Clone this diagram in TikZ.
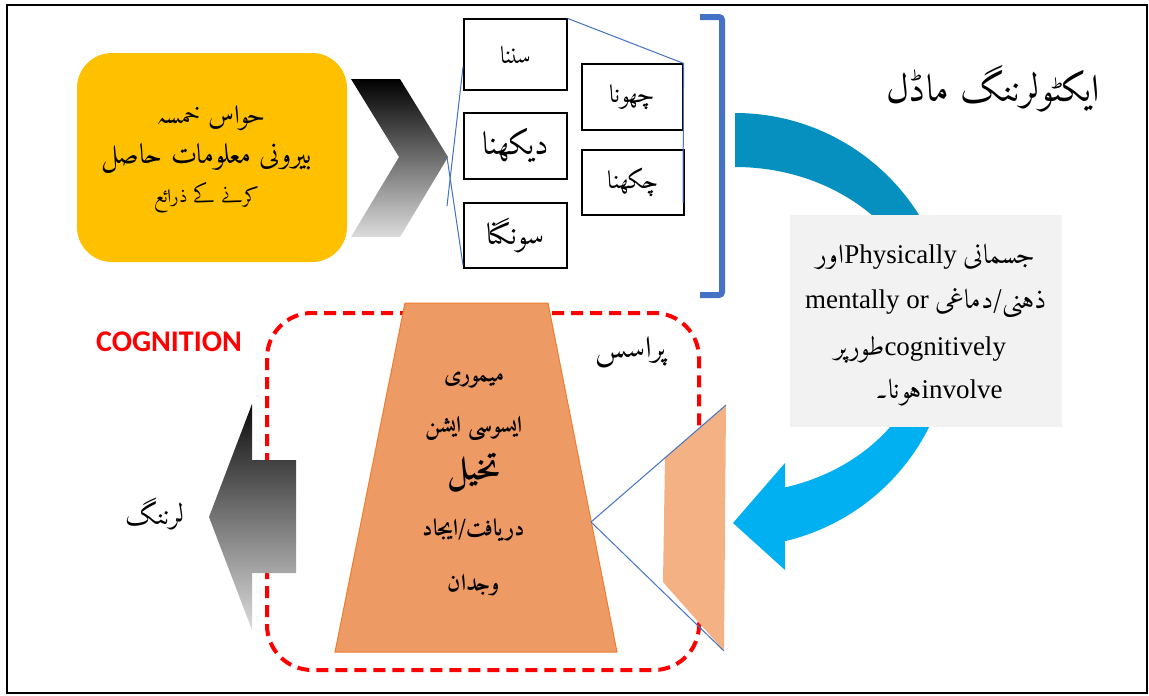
\documentclass[tikz,border=0pt]{standalone}
\usepackage{fontspec}
\setmainfont{Liberation Serif}
\IfFontExistsTF{Amiri-Regular.ttf}{%
  \newfontfamily\ur[Script=Arabic]{Amiri-Regular.ttf}%
  \newfontfamily\urb[Script=Arabic]{Amiri-Bold.ttf}%
}{%
  \newfontfamily\ur[Script=Arabic]{DejaVu Sans}%
  \newfontfamily\urb[Script=Arabic,FakeBold=2]{DejaVu Sans}%
}
\newfontfamily\calfont{Carlito}
\TeXXeTstate=1
\definecolor{gold}{HTML}{FFC000}
\definecolor{lineblue}{HTML}{4472C4}
\definecolor{arcdark}{HTML}{0590C0}
\definecolor{arclight}{HTML}{00B0F0}
\definecolor{boxgray}{HTML}{F2F2F2}
\definecolor{orbig}{HTML}{EE9A64}
\definecolor{orline}{HTML}{ED7D31}
\definecolor{orsmall}{HTML}{F4B183}
\definecolor{shadelight}{HTML}{DCDCDC}
\newcommand{\usz}[1]{\ur\fontsize{#1}{#1}\selectfont}
\newcommand{\ubsz}[1]{\urb\fontsize{#1}{#1}\selectfont}
\begin{document}
\begin{tikzpicture}[x=1pt,y=-1pt,
  sensebox/.style={draw=black,line width=1.2pt,fill=white,inner sep=0pt},
  thinblue/.style={draw=lineblue,line width=1pt},
  txt/.style={inner sep=0pt}]
\useasboundingbox (0,0) rectangle (1149,696);
\fill[white] (0,0) rectangle (1149,696);
\draw[line width=2pt] (7,5) rectangle (1147,693);

% yellow rounded box
\node[fill=gold,rounded corners=35pt,minimum width=270pt,minimum height=209pt,inner sep=0pt] (yb) at (212,157.5) {};
\node[txt] (y1) at (211,118) {\usz{26}\beginR حواس خمسہ\endR};
\node[txt] (y2) at (207,158) {\usz{28}\beginR بیرونی معلومات حاصل\endR};
\node[txt] (y3) at (207,198) {\usz{19}\beginR کرنے کے ذرائع\endR};

% chevron
\shade[top color=black,bottom color=shadelight] (351,79) -- (400,79) -- (448,157) -- (400,237) -- (351,237) -- (399,157) -- cycle;

% sense boxes
\node[sensebox,minimum width=103pt,minimum height=71pt] (sn) at (515.5,54.5) {\usz{24}\beginR سننا\endR};
\node[sensebox,minimum width=103pt,minimum height=66pt] (dk) at (515.5,146) {\usz{32}\beginR دیکھنا\endR};
\node[sensebox,minimum width=103pt,minimum height=65pt] (sg) at (515.5,235.5) {\usz{30}\beginR سونگنا\endR};
\node[sensebox,minimum width=101pt,minimum height=66pt] (cho) at (632.5,97) {\usz{25}\beginR چھونا\endR};
\node[sensebox,minimum width=102pt,minimum height=65pt] (chk) at (633,182.5) {\usz{25}\beginR چکھنا\endR};

% thin blue lines
\coordinate (la1) at (463,67);
\coordinate (la2) at (447,206);
\coordinate (lb1) at (447,157);
\coordinate (lb2) at (463,265);
\coordinate (lc) at (683,203);
\draw[thinblue] (la1) -- (la2);
\draw[thinblue] (lb1) -- (lb2);
\draw[thinblue] (sn.north east) -- (cho.north east) -- (lc);

% bracket
\coordinate (br1) at (700,17);
\coordinate (br2) at (722,17);
\coordinate (br3) at (722,295);
\coordinate (br4) at (700,295);
\draw[lineblue,line width=6pt,rounded corners=3pt] (br1) -- (br2) -- (br3) -- (br4);

% title
\node[txt] (title) at (993,89) {\usz{38}\beginR ایکٹولرننگ ماڈل\endR};

% curved arrow
\fill[arcdark] (735,113) arc[start angle=-90,end angle=0,radius=217] -- (928,330)
   arc[start angle=0,end angle=-90,x radius=193,y radius=163] -- cycle;
\fill[arclight] (952,330) arc[start angle=0,end angle=76.7,radius=217] -- (785,570) -- (733,523) -- (785,463) -- (785,487.4)
   arc[start angle=75,end angle=0,x radius=193,y radius=163] -- cycle;

% gray box
\node[fill=boxgray,minimum width=272pt,minimum height=212pt,inner sep=0pt] (gb) at (926,321) {};
\node[txt] (g1) at (926,257) {\fontsize{27}{30}\selectfont\beginR{\ur جسمانی} \beginL Physically\endL{\ur اور}\endR};
\node[txt] (g2) at (926,303) {\fontsize{27}{30}\selectfont\beginR{\ur ذہنی/دماغی} \beginL mentally or\endL\endR};
\node[txt] (g3) at (920,350) {\fontsize{27}{30}\selectfont\beginR\beginL cognitively\endL{\ur طورپر}\endR};
\node[txt] (g4) at (939,393) {\fontsize{27}{30}\selectfont\beginR\beginL involve\endL{\ur ہونا۔}\endR};

% red dashed box
\draw[red,line width=4pt,dash pattern=on 12pt off 7pt,rounded corners=45pt] (267,313) rectangle (699,670);
\node[txt,text=red] (cog) at (169,342) {\calfont\bfseries\fontsize{30}{32}\selectfont COGNITION};
\node[txt] (pr) at (631,352) {\usz{30}\beginR پراسس\endR};

% big trapezoid
\coordinate (t1) at (405,303);
\coordinate (t2) at (548,303);
\coordinate (t3) at (617,652);
\coordinate (t4) at (335,652);
\filldraw[fill=orbig,draw=orline,line width=1pt] (t1) -- (t2) -- (t3) -- (t4) -- cycle;
\node[txt] (m1) at (474,380) {\ubsz{23}\beginR میموری\endR};
\node[txt] (m2) at (474,428) {\ubsz{23}\beginR ایسوسی ایشن\endR};
\node[txt] (m3) at (474,473) {\ubsz{34}\beginR تخیل\endR};
\node[txt] (m4) at (474,530) {\ubsz{23}\beginR دریافت/ایجاد\endR};
\node[txt] (m5) at (474,585) {\ubsz{23}\beginR وجدان\endR};

% small trapezoid and lines
\coordinate (ap) at (591,522);
\coordinate (s1) at (665,458);
\coordinate (s2) at (726,405);
\coordinate (s3) at (724,651);
\coordinate (s4) at (663,582);
\fill[orsmall] (s1) -- (s2) -- (s3) -- (s4) -- cycle;
\draw[thinblue] (ap) -- (s2);
\draw[thinblue] (ap) -- (s3);

% left arrow
\shade[top color=black!95,bottom color=shadelight] (209,517) -- (252,404) -- (252,460) -- (296,460) -- (296,573) -- (252,573) -- (252,630) -- cycle;
\node[txt] (lr) at (155,514) {\usz{28}\beginR لرننگ\endR};
\end{tikzpicture}
\end{document}
